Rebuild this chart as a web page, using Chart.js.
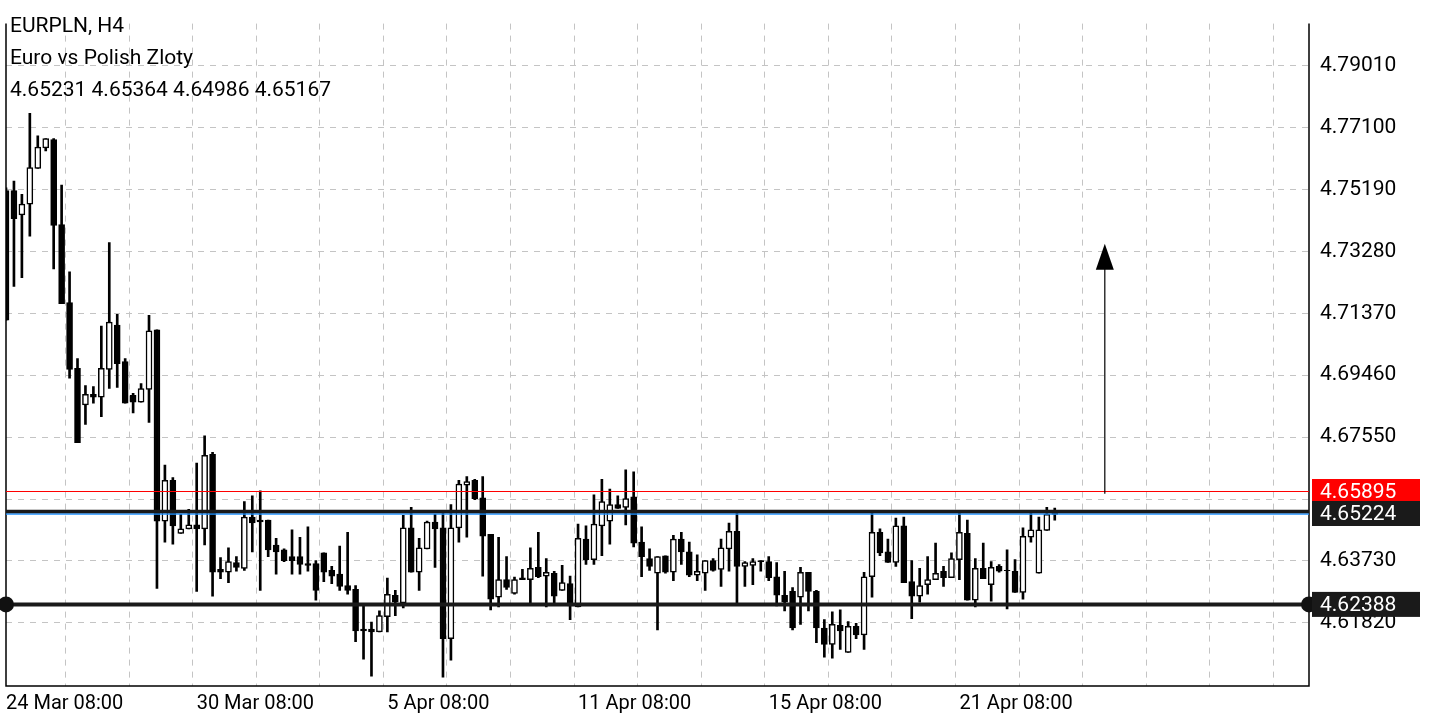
<!DOCTYPE html>
<html><head><meta charset="utf-8">
<script src="https://cdn.jsdelivr.net/npm/chart.js@4/dist/chart.umd.min.js"></script>
<style>html,body{margin:0;padding:0;background:#fff}#w{width:1440px;height:720px}</style>
</head><body><div id="w"><canvas id="c"></canvas></div>
<script>
const xTickLabels=['24 Mar 08:00','30 Mar 08:00','5 Apr 08:00','11 Apr 08:00','15 Apr 08:00','21 Apr 08:00'];
const slotCount=165;
const opens=[4.7516,4.7516,4.7441,4.7474,4.7584,4.7647,4.7673,4.7411,4.7170,4.6967,
4.6854,4.6887,4.6878,4.6964,4.7101,4.6988,4.6884,4.6863,4.6902,4.7086,
4.6496,4.6622,4.6458,4.6472,4.6484,4.6472,4.6702,4.6347,4.6338,4.6368,
4.6350,4.6508,4.6499,4.6499,4.6422,4.6407,4.6386,4.6386,4.6365,4.6365,
4.6398,4.6344,4.6332,4.6297,4.6285,4.6163,4.6163,4.6154,4.6201,4.6267,
4.6243,4.6475,4.6338,4.6410,4.6493,4.6475,4.6133,4.6475,4.6607,4.6622,
4.6568,4.6455,4.6261,4.6315,4.6273,4.6321,4.6315,4.6353,4.6326,4.6335,
4.6282,4.6303,4.6231,4.6440,4.6377,4.6481,4.6496,4.6547,4.6538,4.6571,
4.6431,4.6380,4.6335,4.6389,4.6338,4.6440,4.6401,4.6329,4.6335,4.6374,
4.6347,4.6410,4.6464,4.6356,4.6359,4.6374,4.6371,4.6324,4.6267,4.6279,
4.6261,4.6338,4.6279,4.6166,4.6115,4.6174,4.6091,4.6171,4.6145,4.6324,
4.6461,4.6401,4.6368,4.6481,4.6309,4.6264,4.6300,4.6315,4.6341,4.6321,
4.6377,4.6458,4.6252,4.6350,4.6300,4.6356,4.6344,4.6341,4.6276,4.6446,
4.6335,4.6467,4.65231];
const highs=[4.7524,4.7545,4.7504,4.7754,4.7685,4.7676,4.7676,4.7533,4.7265,4.6997,
4.6914,4.6911,4.7098,4.7355,4.7134,4.6997,4.6890,4.6920,4.7131,4.7086,
4.6669,4.6630,4.6517,4.6532,4.6675,4.6759,4.6708,4.6383,4.6413,4.6386,
4.6556,4.6574,4.6589,4.6499,4.6443,4.6410,4.6469,4.6446,4.6478,4.6374,
4.6398,4.6356,4.6419,4.6461,4.6297,4.6237,4.6184,4.6219,4.6320,4.6282,
4.6514,4.6538,4.6443,4.6496,4.6517,4.6520,4.6547,4.6622,4.6633,4.6625,
4.6633,4.6455,4.6446,4.6386,4.6323,4.6347,4.6413,4.6461,4.6380,4.6341,
4.6359,4.6326,4.6487,4.6481,4.6577,4.6625,4.6595,4.6574,4.6654,4.6648,
4.6478,4.6410,4.6386,4.6389,4.6452,4.6461,4.6431,4.6392,4.6374,4.6380,
4.6440,4.6490,4.6520,4.6371,4.6380,4.6374,4.6386,4.6368,4.6341,4.6291,
4.6353,4.6338,4.6282,4.6192,4.6216,4.6222,4.6186,4.6180,4.6338,4.6520,
4.6472,4.6440,4.6505,4.6508,4.6374,4.6350,4.6386,4.6428,4.6356,4.6398,
4.6520,4.6499,4.6380,4.6428,4.6371,4.6362,4.6407,4.6377,4.6475,4.6520,
4.6508,4.6538,4.65364];
const lows=[4.7116,4.7220,4.7247,4.7375,4.7584,4.7638,4.7274,4.7167,4.6937,4.6738,
4.6794,4.6860,4.6818,4.6905,4.6908,4.6860,4.6830,4.6863,4.6800,4.6288,
4.6431,4.6425,4.6458,4.6472,4.6279,4.6422,4.6264,4.6318,4.6306,4.6341,
4.6344,4.6401,4.6282,4.6386,4.6332,4.6371,4.6332,4.6332,4.6341,4.6252,
4.6309,4.6303,4.6282,4.6270,4.6124,4.6070,4.6017,4.6154,4.6154,4.6204,
4.6228,4.6338,4.6282,4.6410,4.6353,4.6014,4.6067,4.6431,4.6446,4.6562,
4.6326,4.6222,4.6231,4.6285,4.6270,4.6315,4.6243,4.6321,4.6231,4.6243,
4.6282,4.6192,4.6231,4.6362,4.6362,4.6389,4.6425,4.6535,4.6484,4.6416,
4.6324,4.6344,4.6160,4.6335,4.6312,4.6362,4.6324,4.6312,4.6282,4.6341,
4.6294,4.6341,4.6243,4.6294,4.6300,4.6341,4.6312,4.6234,4.6219,4.6160,
4.6177,4.6219,4.6121,4.6076,4.6073,4.6100,4.6091,4.6133,4.6100,4.6261,
4.6389,4.6368,4.6356,4.6306,4.6195,4.6246,4.6270,4.6315,4.6294,4.6321,
4.6315,4.6252,4.6231,4.6318,4.6249,4.6338,4.6225,4.6276,4.6255,4.6431,
4.6335,4.6467,4.64986];
const closes=[4.7116,4.7429,4.7474,4.7587,4.7650,4.7676,4.7408,4.7167,4.6964,4.6738,
4.6887,4.6878,4.6967,4.7110,4.6982,4.6860,4.6863,4.6905,4.7083,4.6496,
4.6622,4.6481,4.6472,4.6484,4.6472,4.6699,4.6338,4.6338,4.6371,4.6353,
4.6508,4.6490,4.6493,4.6407,4.6401,4.6374,4.6374,4.6362,4.6359,4.6282,
4.6338,4.6326,4.6294,4.6282,4.6157,4.6157,4.6154,4.6204,4.6270,4.6246,
4.6475,4.6338,4.6413,4.6493,4.6472,4.6133,4.6475,4.6610,4.6618,4.6565,
4.6449,4.6255,4.6315,4.6291,4.6315,4.6315,4.6350,4.6324,4.6338,4.6264,
4.6306,4.6234,4.6443,4.6377,4.6487,4.6556,4.6547,4.6535,4.6565,4.6428,
4.6386,4.6356,4.6386,4.6338,4.6440,4.6401,4.6329,4.6341,4.6374,4.6344,
4.6413,4.6464,4.6356,4.6368,4.6371,4.6371,4.6321,4.6267,4.6246,4.6166,
4.6338,4.6279,4.6166,4.6115,4.6177,4.6157,4.6171,4.6145,4.6324,4.6461,
4.6398,4.6368,4.6481,4.6306,4.6264,4.6297,4.6315,4.6335,4.6321,4.6380,
4.6461,4.6252,4.6350,4.6318,4.6353,4.6341,4.6343,4.6276,4.6449,4.6469,
4.6469,4.6517,4.65167];
const yTicks=[4.6182,4.6373,4.6564,4.6755,4.6946,4.7137,4.7328,4.7519,4.7710,4.7901];
const yHidden=[4.6564];
const yMin=4.5987, yMax=4.8031;
const redLevel=4.65895, bidLevel=4.65224, supportLevel=4.62388;
const arrowIndex=138.3, arrowFrom=4.6580, arrowTo=4.7352;
const headerLines=['EURPLN, H4','Euro vs Polish Zloty','4.65231 4.65364 4.64986 4.65167'];

const labels=[];
for(let i=0;i<slotCount;i++){labels.push(i%24===0&&i/24<xTickLabels.length?xTickLabels[i/24]:'');}
const bodies=opens.map((o,i)=>[Math.min(o,closes[i]),Math.max(o,closes[i])]);
const wicks=lows.map((l,i)=>[l,highs[i]]);
const bodyColors=opens.map((o,i)=>closes[i]>=o?'#ffffff':'#000000');
const F='Roboto, "DejaVu Sans", sans-serif';

const overlay={id:'overlay',
 beforeDatasetsDraw(ch){const {ctx,chartArea:a}=ch;ctx.save();
  ctx.strokeStyle='#000';ctx.lineWidth=1.5;
  ctx.beginPath();ctx.moveTo(a.left,a.top);ctx.lineTo(a.left,a.bottom);ctx.lineTo(a.right,a.bottom);ctx.lineTo(a.right,a.top);ctx.stroke();
  ctx.restore();},
 afterDatasetsDraw(ch){const {ctx,chartArea:a,scales:{x,y}}=ch;ctx.save();
  const yr=Math.round(y.getPixelForValue(redLevel))+0.5;
  ctx.strokeStyle='#ff0000';ctx.lineWidth=1.2;ctx.beginPath();ctx.moveTo(a.left,yr);ctx.lineTo(a.right,yr);ctx.stroke();
  const yb=y.getPixelForValue(bidLevel);
  ctx.strokeStyle='#1e90ff';ctx.lineWidth=1.5;ctx.beginPath();ctx.moveTo(a.left,yb+1.5);ctx.lineTo(a.right,yb+1.5);ctx.stroke();
  ctx.strokeStyle='#1a1a1a';ctx.lineWidth=3.5;ctx.beginPath();ctx.moveTo(a.left,yb-1);ctx.lineTo(a.right,yb-1);ctx.stroke();
  const ys=y.getPixelForValue(supportLevel);
  ctx.lineWidth=4;ctx.beginPath();ctx.moveTo(a.left,ys);ctx.lineTo(a.right,ys);ctx.stroke();
  ctx.fillStyle='#111';[a.left,a.right].forEach(px=>{ctx.beginPath();ctx.arc(px,ys,8,0,Math.PI*2);ctx.fill();});
  const ax=x.getPixelForValue(arrowIndex),ya=y.getPixelForValue(arrowFrom),yt=y.getPixelForValue(arrowTo);
  ctx.strokeStyle='#000';ctx.lineWidth=1.2;ctx.beginPath();ctx.moveTo(ax,ya);ctx.lineTo(ax,yt+20);ctx.stroke();
  ctx.fillStyle='#000';ctx.beginPath();ctx.moveTo(ax,yt);ctx.lineTo(ax-9,yt+26);ctx.lineTo(ax+9,yt+26);ctx.closePath();ctx.fill();
  ctx.font='21px '+F;ctx.textBaseline='middle';
  const box=(v,bg,yy)=>{ctx.fillStyle=bg;ctx.fillRect(a.right+3,yy-12.5,108,25);ctx.fillStyle='#fff';ctx.textAlign='left';ctx.fillText(v.toFixed(5),a.right+11,yy+1);};
  box(redLevel,'#ff0000',yr);box(bidLevel,'#1a1a1a',yb+1);box(supportLevel,'#1a1a1a',ys);
  ctx.fillStyle='#000';ctx.textAlign='left';ctx.textBaseline='alphabetic';
  headerLines.forEach((t,i)=>ctx.fillText(t,10,32+i*32));
  ctx.restore();}
};

new Chart(document.getElementById('c'),{
 type:'bar',
 plugins:[overlay],
 data:{labels,datasets:[
  {data:bodies,backgroundColor:bodyColors,borderColor:'#000',borderWidth:1.5,borderSkipped:false,barThickness:6,grouped:false},
  {data:wicks,backgroundColor:'#000',borderWidth:0,barThickness:2,grouped:false}
 ]},
 options:{responsive:true,maintainAspectRatio:false,animation:false,
  layout:{autoPadding:false,padding:{left:3,top:0,right:0,bottom:0}},
  plugins:{legend:{display:false},tooltip:{enabled:false}},
  scales:{
   x:{offset:false,border:{display:false,dash:[6,6]},
    grid:{drawTicks:false,color:c=>(c.index%8===0&&c.index>0)?'#c4c4c4':'rgba(0,0,0,0)',lineWidth:1},
    ticks:{autoSkip:false,maxRotation:0,align:'start',padding:6,color:'#000',font:{family:F,size:20},callback:(v,i)=>labels[i]},
    afterFit:s=>{s.height=34;}},
   y:{position:'right',min:yMin,max:yMax,border:{display:false,dash:[6,6]},
    afterBuildTicks:s=>{s.ticks=yTicks.map(v=>({value:v}));},
    grid:{drawTicks:false,color:'#c4c4c4'},
    ticks:{padding:11,color:'#000',font:{family:F,size:21},callback:v=>yHidden.includes(v)?'':v.toFixed(5)},
    afterFit:s=>{s.width=131;}}
  }
 }
});
</script></body></html>
